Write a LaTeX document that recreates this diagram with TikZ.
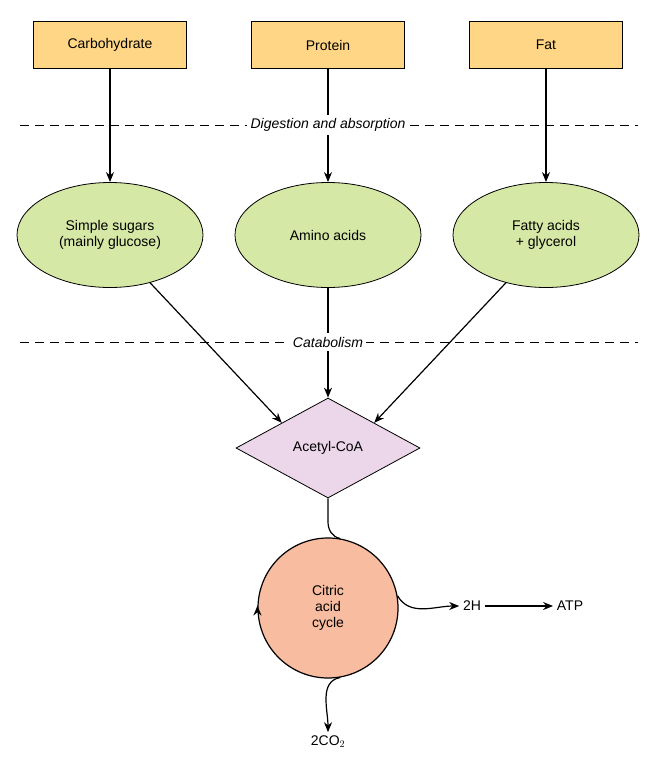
\documentclass[tikz,border=0pt]{standalone}
\usepackage{fontspec}
\setmainfont{Liberation Sans}
\usetikzlibrary{shapes.geometric,arrows.meta}
\definecolor{boxfill}{RGB}{255,214,134}
\definecolor{ovalfill}{RGB}{214,232,165}
\definecolor{diamfill}{RGB}{236,214,234}
\definecolor{cyclefill}{RGB}{248,188,160}
\tikzset{
    food/.style={draw, thick, fill=boxfill, minimum width=153pt, minimum height=47pt},
    oval/.style={draw, thick, ellipse, fill=ovalfill, minimum width=186pt, minimum height=105pt, align=center},
    flow/.style={very thick, -{Stealth[length=10pt,width=8pt]}},
    stage/.style={dashed, thick, dash pattern=on 9pt off 6pt},
}
\begin{document}
\begin{tikzpicture}[x=1pt,y=-1pt,font=\fontsize{14}{16}\selectfont,line width=1pt]
    \useasboundingbox (0,0) rectangle (658,771);

    \node[food] (carb) at (110,45) {Carbohydrate};
    \node[food] (prot) at (328,45) {Protein};
    \node[food] (fat) at (546,45) {Fat};

    \draw[stage] (20,125) -- (638,125);
    \node[fill=white, font=\fontsize{14}{16}\selectfont\itshape] (dig) at (328,125) {Digestion and absorption};

    \node[oval] (sugar) at (110,235) {Simple sugars\\(mainly glucose)};
    \node[oval] (amino) at (328,235) {Amino acids};
    \node[oval] (fatty) at (546,235) {Fatty acids\\+ glycerol};

    \draw[stage] (20,342) -- (638,342);
    \node[fill=white, font=\fontsize{14}{16}\selectfont\itshape] (cat) at (328,342) {Catabolism};

    \node[draw, thick, diamond, fill=diamfill, aspect=1.85, minimum width=184pt, minimum height=100pt, inner sep=0pt] (acoa) at (328,448) {Acetyl-CoA};

    \node[draw, very thick, circle, fill=cyclefill, minimum size=140pt, align=center, inner sep=0pt] (cyc) at (328,608) {Citric\\acid\\cycle};

    \node (h) at (472,606) {2H};
    \node (atp) at (570,606) {ATP};
    \node (co) at (328,742) {2CO$_2$};

    % digestion
    \draw[flow] (carb) -- (sugar);
    \draw[very thick] (prot) -- (dig);
    \draw[flow] (dig) -- (amino);
    \draw[flow] (fat) -- (fatty);

    % catabolism
    \draw[flow] (sugar.-50) -- (acoa.north west);
    \draw[flow] (fatty.-130) -- (acoa.north east);
    \draw[very thick] (amino) -- (cat);
    \draw[flow] (cat) -- (acoa);

    % cycle
    \draw[very thick] (acoa.south) -- (328,522) to[out=-90,in=170] (cyc.80);
    \draw[flow] (cyc.10) to[out=-60,in=180] (h.west);
    \draw[flow] (h) -- (atp);
    \draw[flow] (cyc.-80) to[out=-170,in=90] (co.north);
    \draw[very thick, -{Stealth[length=10pt,width=8pt]}] (cyc.182) -- (cyc.178);
\end{tikzpicture}
\end{document}
